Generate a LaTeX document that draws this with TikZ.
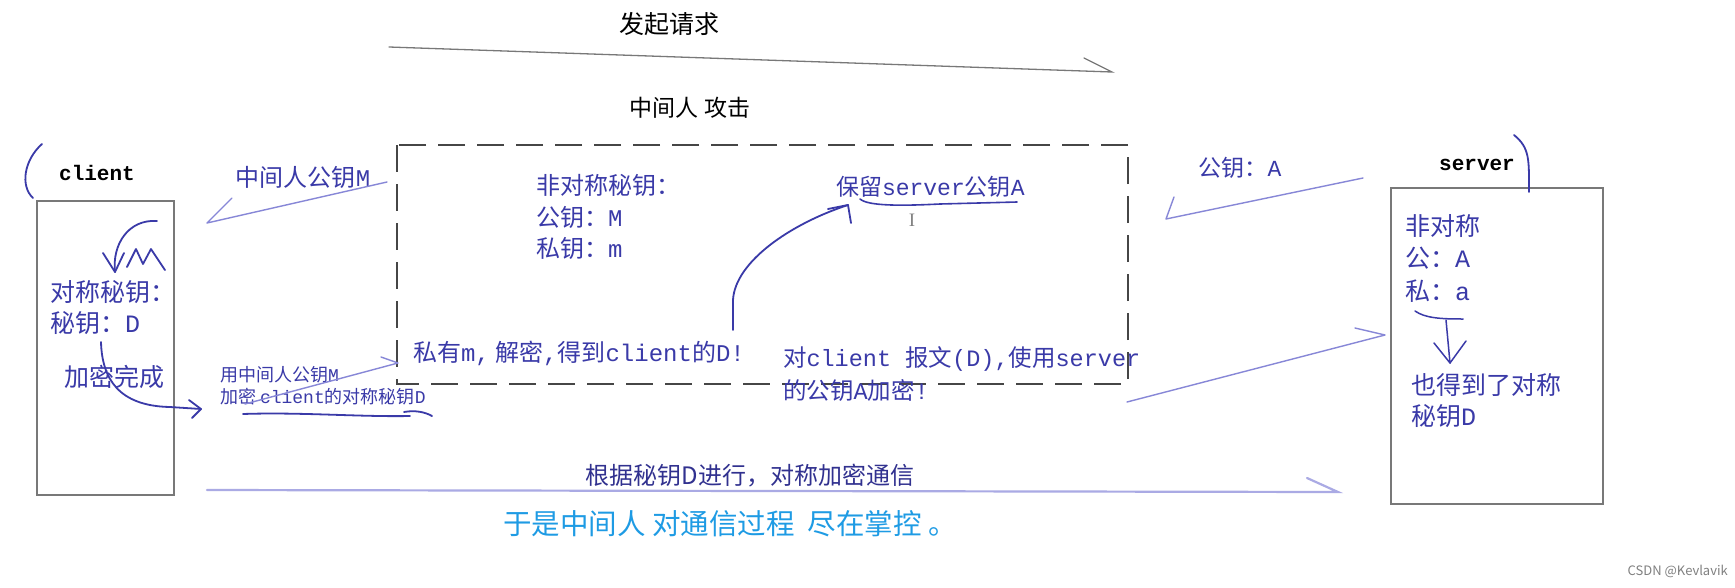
\documentclass[tikz,border=0pt]{standalone}
\usepackage{fontspec}
\setmainfont{Noto Sans CJK SC}
\newfontfamily\monofont{Liberation Mono}
\newfontfamily\seriffont{Liberation Serif}
\newcommand\tw[1]{{\monofont #1}}
\definecolor{hb}{RGB}{58,58,168}
\definecolor{hl}{RGB}{135,135,215}
\definecolor{bl}{RGB}{170,170,228}
\definecolor{sky}{RGB}{30,155,228}
\definecolor{bx}{RGB}{120,120,120}
\definecolor{dk}{RGB}{70,70,70}
\begin{document}
\begin{tikzpicture}[x=1pt,y=-1pt,
  lbl/.style={inner sep=0pt,outer sep=0pt,text=hb,font=\fontsize{24}{28}\selectfont},
  lblw/.style={lbl,anchor=west},
  small/.style={lblw,font=\fontsize{18}{21}\selectfont},
  big/.style={lblw,font=\fontsize{25}{29}\selectfont},
  title/.style={inner sep=0pt,text=black,font=\fontsize{24}{28}\selectfont},
  hostname/.style={inner sep=0pt,text=black,font=\fontsize{21}{24}\monofont\bfseries},
  hostbox/.style={draw=bx,line width=1.2pt},
  mitmbox/.style={draw=dk,line width=1.7pt,dash pattern=on 27pt off 12pt},
  pen/.style={draw=hb,line width=1.8pt,line cap=round,line join=round},
  thin/.style={draw=hl,line width=1.4pt,line cap=round,line join=round},
  grayarrow/.style={draw=bx,line width=1.3pt,line cap=round},
  longarrow/.style={draw=bl,line width=2.2pt,line cap=round}
]
\useasboundingbox (0,0) rectangle (1735,587);
\fill[white] (0,0) rectangle (1735,587);

% ---------- top request arrow ----------
\node[title,font=\fontsize{25}{29}\selectfont] (req) at (669,24) {发起请求};
\coordinate (reqS) at (389,47);
\coordinate (reqE) at (1112,72);
\coordinate (reqB) at (1084,58);
\draw[grayarrow] (reqS) -- (reqE) -- (reqB);
\node[title,font=\fontsize{23}{27}\selectfont] (mitmT) at (690,108) {中间人 攻击};

% ---------- boxes ----------
\draw[hostbox] (37,201) rectangle (174,495);
\draw[hostbox] (1391,188) rectangle (1603,504);
\draw[mitmbox] (397,145) rectangle (1128,384);

\node[hostname] (client) at (97,173) {client};
\node[hostname] (server) at (1477,165) {server};

% brackets
\coordinate (cb1) at (42,144);
\coordinate (cb2) at (33,198);
\draw[pen] (cb1) .. controls (24,160) and (20,186) .. (cb2);
\coordinate (sb1) at (1514,135);
\coordinate (sb2) at (1529,192);
\draw[pen] (sb1) .. controls (1530,148) and (1529,160) .. (sb2);

% ---------- client box content ----------
\coordinate (cs1) at (157,221);
\coordinate (cs2) at (115,272);
\draw[pen] (cs1) .. controls (128,219) and (112,245) .. (cs2);
\draw[pen] (103,253) -- (cs2) -- (124,253);
\draw[pen] (127,267) -- (136,249) -- (143,264) -- (151,249) -- (165,270);
\node[lblw,font=\fontsize{25}{29}\selectfont] (c1) at (50,292) {对称秘钥：};
\node[lblw,font=\fontsize{25}{29}\selectfont] (c2) at (50,323) {秘钥：\tw{D}};
\node[lbl,font=\fontsize{25}{29}\selectfont] (c3) at (114,377) {加密完成};
\coordinate (ec1) at (101,342);
\coordinate (ec2) at (201,409);
\draw[pen] (ec1) .. controls (102,378) and (118,406) .. (170,407) -- (ec2);
\draw[pen] (189,400) -- (ec2) -- (192,418);

% ---------- client <-> mitm ----------
\node[lbl,font=\fontsize{24}{28}\selectfont] (mpk) at (303,177) {中间人公钥\tw{M}};
\coordinate (a1s) at (387,182);
\coordinate (a1e) at (207,223);
\coordinate (a1b) at (232,198);
\draw[thin] (a1s) -- (a1e) -- (a1b);

\node[small] (u1) at (220,375) {用中间人公钥\tw{M}};
\node[small] (u2) at (220,397) {加密 \tw{client}的对称秘钥\tw{D}};
\coordinate (a2s) at (245,404);
\coordinate (a2e) at (398,363);
\coordinate (a2b) at (381,357);
\draw[thin] (a2s) -- (a2e) -- (a2b);
\coordinate (ul1) at (243,414);
\coordinate (ul2) at (410,416);
\draw[pen] (ul1) .. controls (300,412) and (360,417) .. (ul2);
\draw[pen] (404,412) .. controls (415,410) and (425,412) .. (432,416);

% ---------- mitm box content ----------
\node[lblw] (m1) at (536,185) {非对称秘钥：};
\node[lblw] (m2) at (536,217) {公钥：\tw{M}};
\node[lblw] (m3) at (536,248) {私钥：\tw{m}};
\node[lblw,font=\fontsize{23}{27}\selectfont] (keep) at (836,187) {保留\tw{server}公钥\tw{A}};
\coordinate (kl1) at (860,199);
\coordinate (kl2) at (1017,202);
\draw[pen,line width=1.6pt] (kl1) .. controls (868,206) and (900,206) .. (940,204) -- (kl2);
\node[inner sep=0pt,text=gray,font=\fontsize{19}{21}\seriffont] (cursor) at (912,220) {I};

\coordinate (ca1) at (733,330);
\coordinate (ca2) at (848,205);
\draw[pen] (ca1) -- (733,300) .. controls (735,262) and (790,224) .. (ca2);
\draw[pen] (828,209) -- (ca2) -- (851,223);

\node[lblw] (dec) at (413,353) {私有\tw{m,} 解密\tw{,}得到\tw{client}的\tw{D!}};
\node[lblw,font=\fontsize{23.5}{27}\selectfont] (enc1) at (783,359) {对\tw{client }报文\tw{(D),}使用\tw{server}};
\node[lblw,font=\fontsize{23.5}{27}\selectfont] (enc2) at (783,391) {的公钥\tw{A}加密\tw{!}};

% ---------- mitm <-> server ----------
\node[lbl,font=\fontsize{23}{27}\selectfont] (apk) at (1240,168) {公钥：\tw{A}};
\coordinate (a3s) at (1363,178);
\coordinate (a3e) at (1166,219);
\coordinate (a3b) at (1174,197);
\draw[thin] (a3s) -- (a3e) -- (a3b);
\coordinate (a4s) at (1127,402);
\coordinate (a4e) at (1385,335);
\coordinate (a4b) at (1355,328);
\draw[thin] (a4s) -- (a4e) -- (a4b);

% ---------- server box content ----------
\node[big] (s1) at (1405,226) {非对称};
\node[big] (s2) at (1405,258) {公：\tw{A}};
\node[big] (s3) at (1405,291) {私：\tw{a}};
\coordinate (sc1) at (1415,311);
\coordinate (sc2) at (1463,319);
\draw[pen,line width=1.5pt] (sc1) .. controls (1425,318) and (1440,319) .. (sc2);
\coordinate (sd1) at (1446,320);
\coordinate (sd2) at (1450,363);
\draw[pen,line width=1.5pt] (sd1) -- (sd2);
\draw[pen,line width=1.5pt] (1434,343) -- (sd2) -- (1466,341);
\node[big] (s4) at (1411,385) {也得到了对称};
\node[big] (s5) at (1411,416) {秘钥\tw{D}};

% ---------- bottom ----------
\coordinate (bs) at (207,490);
\coordinate (be) at (1338,492);
\coordinate (bb) at (1307,478);
\draw[longarrow] (bs) -- (be) -- (bb);
\node[inner sep=0pt,text=hb!85!black,font=\fontsize{24}{28}\selectfont] (sym) at (750,476) {根据秘钥D进行，对称加密通信};
\node[inner sep=0pt,text=sky,font=\fontsize{28.5}{32}\selectfont] (concl) at (730,524) {于是中间人 对通信过程\ \ 尽在掌控\ 。};
\node[inner sep=0pt,anchor=east,text=gray,font=\fontsize{13}{15}\selectfont] (wm) at (1728,571) {CSDN @Kevlavik};
\end{tikzpicture}
\end{document}
